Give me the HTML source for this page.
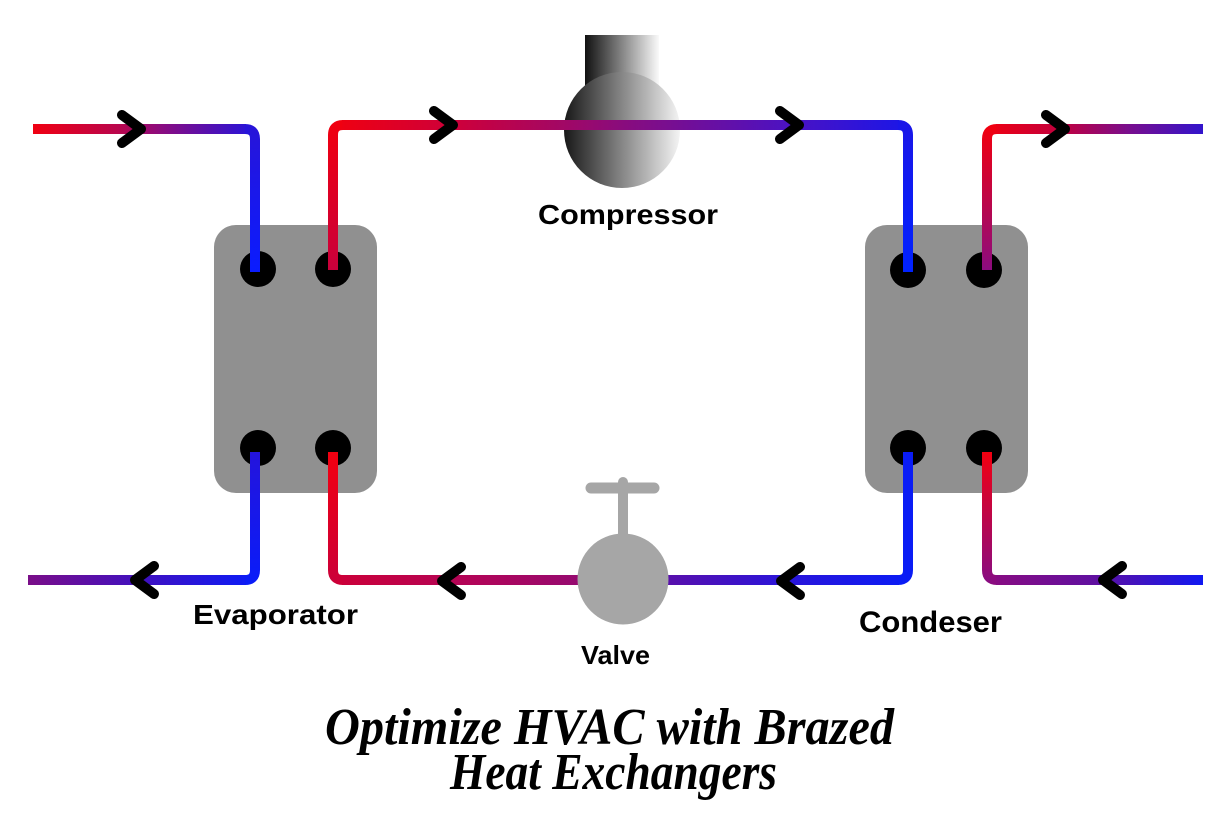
<!DOCTYPE html>
<html>
<head>
<meta charset="utf-8">
<style>
  html,body{margin:0;padding:0;background:#fff;}
  svg{display:block;}
</style>
</head>
<body>
<svg width="1221" height="814" viewBox="0 0 1221 814" xmlns="http://www.w3.org/2000/svg">
  <defs>
    <linearGradient id="g1h" gradientUnits="userSpaceOnUse" x1="33" y1="0" x2="250" y2="0">
      <stop offset="0" stop-color="#f00012"/>
      <stop offset="0.4" stop-color="#b8064e"/>
      <stop offset="0.6" stop-color="#880c82"/>
      <stop offset="1" stop-color="#2814d8"/>
    </linearGradient>
    <linearGradient id="g1v" gradientUnits="userSpaceOnUse" x1="0" y1="125" x2="0" y2="272">
      <stop offset="0" stop-color="#2814d8"/>
      <stop offset="1" stop-color="#0a1cff"/>
    </linearGradient>
    <linearGradient id="g2v" gradientUnits="userSpaceOnUse" x1="0" y1="272" x2="0" y2="125">
      <stop offset="0" stop-color="#c8003c"/>
      <stop offset="1" stop-color="#f00010"/>
    </linearGradient>
    <linearGradient id="g2h" gradientUnits="userSpaceOnUse" x1="333" y1="0" x2="908" y2="0">
      <stop offset="0" stop-color="#f00010"/>
      <stop offset="0.22" stop-color="#cc003c"/>
      <stop offset="0.5" stop-color="#8a0c7c"/>
      <stop offset="0.8" stop-color="#4a12c4"/>
      <stop offset="1" stop-color="#1a16e8"/>
    </linearGradient>
    <linearGradient id="g2r" gradientUnits="userSpaceOnUse" x1="0" y1="125" x2="0" y2="272">
      <stop offset="0" stop-color="#1a16e8"/>
      <stop offset="1" stop-color="#0022ff"/>
    </linearGradient>
    <linearGradient id="g3v" gradientUnits="userSpaceOnUse" x1="0" y1="272" x2="0" y2="129">
      <stop offset="0" stop-color="#8a0c80"/>
      <stop offset="1" stop-color="#f00010"/>
    </linearGradient>
    <linearGradient id="g3h" gradientUnits="userSpaceOnUse" x1="987" y1="0" x2="1203" y2="0">
      <stop offset="0" stop-color="#f00010"/>
      <stop offset="0.35" stop-color="#c00040"/>
      <stop offset="0.65" stop-color="#7a0e8c"/>
      <stop offset="1" stop-color="#3214cc"/>
    </linearGradient>
    <linearGradient id="g4h" gradientUnits="userSpaceOnUse" x1="908" y1="0" x2="623" y2="0">
      <stop offset="0" stop-color="#0a1cf5"/>
      <stop offset="0.45" stop-color="#2c14d8"/>
      <stop offset="1" stop-color="#6a0e9a"/>
    </linearGradient>
    <linearGradient id="g4h2" gradientUnits="userSpaceOnUse" x1="623" y1="0" x2="333" y2="0">
      <stop offset="0" stop-color="#8a0c7a"/>
      <stop offset="0.5" stop-color="#b0055a"/>
      <stop offset="1" stop-color="#cc0038"/>
    </linearGradient>
    <linearGradient id="g4v2" gradientUnits="userSpaceOnUse" x1="0" y1="580" x2="0" y2="452">
      <stop offset="0" stop-color="#cc0038"/>
      <stop offset="1" stop-color="#f20010"/>
    </linearGradient>
    <linearGradient id="g5v" gradientUnits="userSpaceOnUse" x1="0" y1="452" x2="0" y2="580">
      <stop offset="0" stop-color="#2414dc"/>
      <stop offset="1" stop-color="#0a1cf8"/>
    </linearGradient>
    <linearGradient id="g5h" gradientUnits="userSpaceOnUse" x1="255" y1="0" x2="28" y2="0">
      <stop offset="0" stop-color="#0a1cf8"/>
      <stop offset="0.5" stop-color="#4010c0"/>
      <stop offset="1" stop-color="#7a0e88"/>
    </linearGradient>
    <linearGradient id="g6v" gradientUnits="userSpaceOnUse" x1="0" y1="452" x2="0" y2="580">
      <stop offset="0" stop-color="#f20010"/>
      <stop offset="1" stop-color="#8a0c80"/>
    </linearGradient>
    <linearGradient id="g6h" gradientUnits="userSpaceOnUse" x1="987" y1="0" x2="1203" y2="0">
      <stop offset="0" stop-color="#8a0c80"/>
      <stop offset="0.5" stop-color="#6010a0"/>
      <stop offset="1" stop-color="#1018f2"/>
    </linearGradient>
    <linearGradient id="compRect" gradientUnits="userSpaceOnUse" x1="585" y1="0" x2="659" y2="0">
      <stop offset="0" stop-color="#111"/>
      <stop offset="1" stop-color="#fafafa"/>
    </linearGradient>
    <linearGradient id="compCirc" gradientUnits="userSpaceOnUse" x1="564" y1="0" x2="680" y2="0">
      <stop offset="0" stop-color="#181818"/>
      <stop offset="1" stop-color="#f4f4f4"/>
    </linearGradient>
  </defs>

  <!-- Heat exchanger boxes -->
  <rect x="214" y="225" width="163" height="268" rx="22" fill="#909090"/>
  <rect x="865" y="225" width="163" height="268" rx="22" fill="#909090"/>

  <!-- Ports -->
  <g fill="#000">
    <circle cx="258" cy="269" r="18"/>
    <circle cx="333" cy="269" r="18"/>
    <circle cx="258" cy="448" r="18"/>
    <circle cx="333" cy="448" r="18"/>
    <circle cx="908" cy="270" r="18"/>
    <circle cx="984" cy="270" r="18"/>
    <circle cx="908" cy="448" r="18"/>
    <circle cx="984" cy="448" r="18"/>
  </g>

  <!-- Compressor -->
  <rect x="585" y="35" width="74" height="96" fill="url(#compRect)"/>
  <circle cx="622" cy="130" r="58" fill="url(#compCirc)"/>

  <!-- Pipes -->
  <g fill="none" stroke-width="10" stroke-linecap="butt">
    <path d="M33,129 H246" stroke="url(#g1h)"/>
    <path d="M245,129 Q255,129 255,139 V272" stroke="url(#g1v)"/>

    <path d="M333,270 V135 Q333,125 343,125" stroke="url(#g2v)"/>
    <path d="M342,125 H899" stroke="url(#g2h)"/>
    <path d="M898,125 Q908,125 908,135 V272" stroke="url(#g2r)"/>

    <path d="M987,270 V139 Q987,129 997,129" stroke="url(#g3v)"/>
    <path d="M996,129 H1203" stroke="url(#g3h)"/>

    <path d="M908,452 V570 Q908,580 898,580" stroke="#0a1cf5"/>
    <path d="M899,580 H620" stroke="url(#g4h)"/>
    <path d="M626,580 H342" stroke="url(#g4h2)"/>
    <path d="M343,580 Q333,580 333,570 V452" stroke="url(#g4v2)"/>

    <path d="M255,452 V570 Q255,580 245,580" stroke="url(#g5v)"/>
    <path d="M246,580 H28" stroke="url(#g5h)"/>

    <path d="M987,452 V570 Q987,580 997,580" stroke="url(#g6v)"/>
    <path d="M996,580 H1203" stroke="url(#g6h)"/>
  </g>

  <!-- Chevrons -->
  <g fill="none" stroke="#000" stroke-width="10" stroke-linecap="round" stroke-linejoin="round">
    <polyline points="122,115 141,129 122,143"/>
    <polyline points="434,111 453,125 434,139"/>
    <polyline points="780,111 799,125 780,139"/>
    <polyline points="1046,115 1065,129 1046,143"/>
    <polyline points="154,566 135,580 154,594"/>
    <polyline points="461,567 442,581 461,595"/>
    <polyline points="800,567 781,581 800,595"/>
    <polyline points="1122,566 1103,580 1122,594"/>
  </g>

  <!-- Valve -->
  <g fill="#a6a6a6" stroke="#a6a6a6">
    <line x1="591" y1="488" x2="654" y2="488" stroke-width="11" stroke-linecap="round"/>
    <line x1="623" y1="482" x2="623" y2="545" stroke-width="10" stroke-linecap="round"/>
    <circle cx="623" cy="579" r="45.5" stroke="none"/>
  </g>

  <!-- Labels -->
  <g font-family="'Liberation Sans', sans-serif" font-weight="bold" fill="#000">
    <text x="538" y="224" font-size="28" textLength="180" lengthAdjust="spacingAndGlyphs">Compressor</text>
    <text x="193" y="624" font-size="28" textLength="165" lengthAdjust="spacingAndGlyphs">Evaporator</text>
    <text x="859" y="632" font-size="30" textLength="143" lengthAdjust="spacingAndGlyphs">Condeser</text>
    <text x="581" y="664" font-size="26" textLength="69" lengthAdjust="spacingAndGlyphs">Valve</text>
  </g>

  <!-- Title -->
  <g font-family="'Liberation Serif', serif" font-style="italic" font-weight="bold" fill="#000">
    <text x="325" y="744" font-size="52" textLength="569" lengthAdjust="spacingAndGlyphs">Optimize HVAC with Brazed</text>
    <text x="450" y="789" font-size="52" textLength="327" lengthAdjust="spacingAndGlyphs">Heat Exchangers</text>
  </g>
</svg>
</body>
</html>
